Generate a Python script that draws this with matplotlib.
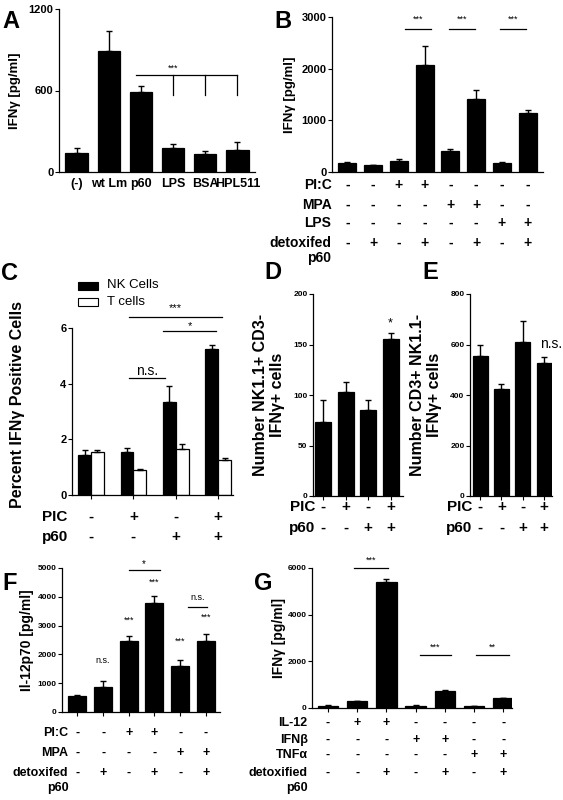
import matplotlib
matplotlib.use("Agg")
import matplotlib.pyplot as plt
import matplotlib.transforms as mtrans
import numpy as np

plt.rcParams['font.family'] = ['Liberation Sans', 'DejaVu Sans']
plt.rcParams['font.weight'] = 'bold'

# ---- data ----
a_labels = ['(-)', 'wt Lm', 'p60', 'LPS', 'BSA', 'HPL511']
a_vals = [140, 890, 590, 175, 130, 165]
a_err = [40, 150, 40, 30, 25, 55]

b_vals = [170, 130, 220, 2070, 410, 1410, 180, 1140]
b_err = [20, 10, 30, 370, 40, 180, 20, 60]
b_rows = ['PI:C', 'MPA', 'LPS', 'detoxifed\np60']
b_table = [['-', '-', '+', '+', '-', '-', '-', '-'],
           ['-', '-', '-', '-', '+', '+', '-', '-'],
           ['-', '-', '-', '-', '-', '-', '+', '+'],
           ['-', '+', '-', '+', '-', '+', '-', '+']]

c_nk = [1.45, 1.55, 3.35, 5.25]
c_nk_err = [0.15, 0.15, 0.55, 0.15]
c_t = [1.55, 0.9, 1.65, 1.25]
c_t_err = [0.07, 0.03, 0.2, 0.07]
pic_row = ['-', '+', '-', '+']
p60_row = ['-', '-', '+', '+']

d_vals = [73, 103, 85, 155]
d_err = [22, 10, 10, 6]
e_vals = [555, 425, 610, 527]
e_err = [45, 20, 85, 22]

f_vals = [570, 870, 2470, 3800, 1600, 2460]
f_err = [20, 220, 160, 220, 220, 250]
f_rows = ['PI:C', 'MPA', 'detoxifed\np60']
f_table = [['-', '-', '+', '+', '-', '-'],
           ['-', '-', '-', '-', '+', '+'],
           ['-', '+', '-', '+', '-', '+']]

g_vals = [100, 300, 5420, 100, 750, 90, 430]
g_err = [10, 20, 100, 10, 20, 10, 20]
g_rows = ['IL-12', 'IFNβ', 'TNFα', 'detoxified\np60']
g_table = [['-', '+', '+', '-', '-', '-', '-'],
           ['-', '-', '-', '+', '+', '-', '-'],
           ['-', '-', '-', '-', '-', '+', '+'],
           ['-', '-', '+', '-', '+', '-', '+']]

W, H = 563, 800
fig = plt.figure(figsize=(W/100, H/100), dpi=100)

def ax_px(x0, y0, x1, y1, ls=7):
    ax = fig.add_axes([x0/W, 1-y1/H, (x1-x0)/W, (y1-y0)/H])
    ax.spines['top'].set_visible(False)
    ax.spines['right'].set_visible(False)
    ax.tick_params(labelsize=ls, width=0.8, length=3, pad=1)
    for s in ax.spines.values():
        s.set_linewidth(0.9)
    ax._px = (x0, y0, x1, y1)
    return ax

def ylab(ax, txt, fs, xpix, ypix=None):
    # xpix: right edge of the (rotated) label in pixels
    x0, y0, x1, y1 = ax._px
    ax.set_ylabel(txt, fontsize=fs, fontweight='bold')
    yy = 0.5 if ypix is None else (y1 - ypix)/(y1 - y0)
    ax.yaxis.set_label_coords((xpix - x0)/(x1 - x0), yy)

def bars(ax, x, v, e, color='black', width=0.7):
    ax.bar(x, v, width, color=color, edgecolor='black', linewidth=0.9)
    ax.errorbar(x, v, yerr=[np.zeros(len(e)), e], fmt='none', ecolor='black',
                capsize=2.5, elinewidth=1, capthick=1)

def table(ax, rows, tab, x, ys, lx, fs=10, ha='right'):
    tr = mtrans.blended_transform_factory(ax.transData, fig.transFigure)
    for r, row, yp in zip(rows, tab, ys):
        y = 1 - yp/H
        lines = r.split('\n')
        ax.text(lx, y, lines[0], transform=tr, ha=ha, va='center', fontsize=fs,
                fontweight='bold', clip_on=False)
        if len(lines) > 1:
            ax.text(lx, y - 15/H, lines[1], transform=tr, ha=ha, va='center',
                    fontsize=fs, fontweight='bold', clip_on=False)
        for xi, s in zip(x, row):
            ax.text(xi, y, s, transform=tr, ha='center', va='center',
                    fontsize=fs, fontweight='bold', clip_on=False)

def sig(ax, x0, x1, y, txt, fs=7, off=0.02, fw='normal'):
    ax.plot([x0, x1], [y, y], color='black', lw=0.9, clip_on=False)
    lim = ax.get_ylim()[1]
    ax.text((x0+x1)/2, y + off*lim, txt, ha='center', va='bottom', fontsize=fs,
            fontweight=fw, clip_on=False)

def letter(x, y, s):
    fig.text(x/W, 1-y/H, s, fontsize=17, fontweight='bold', ha='center', va='center')

# ---- A ----
ax = ax_px(59, 9, 255, 172, ls=8)
x = np.arange(6)
bars(ax, x, a_vals, a_err)
ax.set_ylim(0, 1200); ax.set_yticks([0, 600, 1200])
ax.set_xlim(-0.55, 5.55)
ax.set_xticks(x); ax.set_xticklabels(a_labels, fontsize=9, fontweight='bold')
ax.tick_params(axis='x', length=0, pad=4)
ylab(ax, 'IFNγ [pg/ml]', 9.5, 21)
ax.plot([1.85, 5], [717, 717], color='black', lw=0.9)
for xi in [3, 4, 5]:
    ax.plot([xi, xi], [717, 565], color='black', lw=0.9)
ax.text(3.0, 745, '***', ha='center', fontsize=6.5, fontweight='normal')
letter(11, 22, 'A')

# ---- B ----
ax = ax_px(332, 17, 543, 172, ls=8)
x = np.arange(8)
bars(ax, x, b_vals, b_err)
ax.set_ylim(0, 3000); ax.set_yticks([0, 1000, 2000, 3000])
ax.set_xlim(-0.6, 7.6)
ax.set_xticks([])
ylab(ax, 'IFNγ [pg/ml]', 9.5, 296)
for a0, a1 in [(2.23, 3.26), (3.93, 4.95), (5.91, 6.93)]:
    sig(ax, a0, a1, 2770, '***', fs=6.5, off=0.03)
table(ax, b_rows, b_table, x, [185, 205, 223, 243], lx=-0.62, fs=10)
letter(283, 22, 'B')

# ---- C ----
ax = ax_px(72, 328, 233, 495, ls=8)
ax.set_ylim(0, 6); ax.set_yticks([0, 2, 4, 6])
g = np.arange(4)
w = 0.3
bars(ax, g - w/2, c_nk, c_nk_err, width=w)
bars(ax, g + w/2, c_t, c_t_err, color='white', width=w)
ax.set_xlim(-0.45, 3.35)
ax.set_xticks(g); ax.set_xticklabels([])
ylab(ax, 'Percent IFNγ Positive Cells', 11.5, 25, 405)
sig(ax, 0.9, 1.75, 4.2, 'n.s.', fs=10, off=0.0)
sig(ax, 1.7, 2.95, 5.9, '*', fs=8, off=0.0)
sig(ax, 0.9, 3.1, 6.4, '***', fs=8, off=0.02)
table(ax, ['PIC', 'p60'], [pic_row, p60_row], g, [517, 537], lx=-0.55, fs=11)
fig.patches.append(plt.Rectangle((78/W, 1-290/H), 20/W, 8/H, transform=fig.transFigure,
                                 facecolor='black', edgecolor='black', lw=0.8))
fig.patches.append(plt.Rectangle((78/W, 1-306/H), 20/W, 8/H, transform=fig.transFigure,
                                 facecolor='white', edgecolor='black', lw=0.8))
fig.text(107/W, 1-285/H, 'NK Cells', fontsize=9.5, fontweight='normal', va='center')
fig.text(107/W, 1-302/H, 'T cells', fontsize=9.5, fontweight='normal', va='center')
letter(10, 273, 'C')

# ---- D ----
ax = ax_px(313, 294, 403, 496, ls=6)
x = np.arange(4)
bars(ax, x, d_vals, d_err)
ax.set_ylim(0, 200); ax.set_yticks([0, 50, 100, 150, 200])
ax.set_xlim(-0.46, 3.55); ax.set_xticks(x); ax.set_xticklabels([])
ylab(ax, 'Number NK1.1+ CD3-\nIFNγ+ cells', 11.5, 285)
ax.text(3, 168, '*', ha='center', fontsize=9, fontweight='normal')
table(ax, ['PIC', 'p60'], [pic_row, p60_row], x, [507, 528], lx=-0.35, fs=11)
letter(273, 272, 'D')

# ---- E ----
ax = ax_px(470, 294, 552, 496, ls=6)
bars(ax, x, e_vals, e_err)
ax.set_ylim(0, 800); ax.set_yticks([0, 200, 400, 600, 800])
ax.set_xlim(-0.47, 3.36); ax.set_xticks(x); ax.set_xticklabels([])
ylab(ax, 'Number CD3+ NK1.1-\nIFNγ+ cells', 11.5, 442)
ax.text(3.3, 585, 'n.s.', ha='center', fontsize=10, fontweight='normal')
table(ax, ['PIC', 'p60'], [pic_row, p60_row], x, [507, 528], lx=-0.35, fs=11)
letter(430, 272, 'E')

# ---- F ----
ax = ax_px(62, 568, 220, 712, ls=6)
x = np.arange(6)
bars(ax, x, f_vals, f_err)
ax.set_ylim(0, 5000); ax.set_yticks(range(0, 5001, 1000))
ax.set_xlim(-0.6, 5.55); ax.set_xticks(x); ax.set_xticklabels([])
ylab(ax, 'Il-12p70 [pg/ml]', 10, 34)
for xi, yv, t in [(1, 1780, 'n.s.'), (2, 3170, '***'), (3, 4510, '***'),
                  (4, 2450, '***'), (5, 3290, '***')]:
    ax.text(xi, yv, t, ha='center', va='center', fontsize=6.5, fontweight='normal')
sig(ax, 2, 3.2, 4920, '*', fs=7, off=0.01)
sig(ax, 4.3, 5.05, 3660, 'n.s.', fs=6.5, off=0.03)
table(ax, f_rows, f_table, x, [733, 753, 773], lx=-0.35, fs=9)
letter(10, 583, 'F')

# ---- G ----
ax = ax_px(312, 568, 512, 708, ls=6)
x = np.arange(7)
bars(ax, x, g_vals, g_err)
ax.set_ylim(0, 6000); ax.set_yticks([0, 2000, 4000, 6000])
ax.set_xlim(-0.55, 6.3); ax.set_xticks(x); ax.set_xticklabels([])
ylab(ax, 'IFNγ [pg/ml]', 10, 286)
sig(ax, 0.9, 2.05, 6000, '***', fs=6.5, off=0.02)
sig(ax, 3.15, 4.2, 2290, '***', fs=6.5, off=0.02)
sig(ax, 5.05, 6.2, 2290, '**', fs=6.5, off=0.02)
table(ax, g_rows, g_table, x, [723, 740, 755, 773], lx=-0.7, fs=9)
letter(263, 583, 'G')

fig.savefig('out.png', dpi=100)
